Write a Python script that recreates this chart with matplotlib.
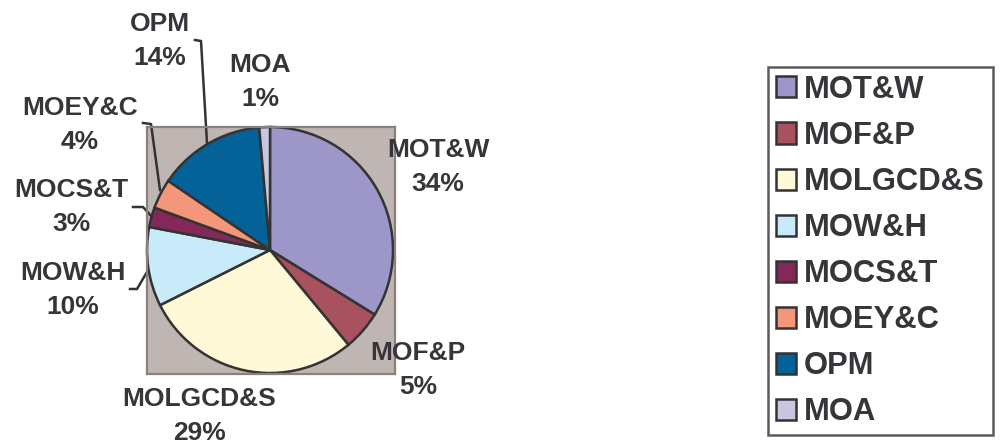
import matplotlib.pyplot as plt

# Ministry shares of the total (percent)
ministries = ['MOT&W', 'MOF&P', 'MOLGCD&S', 'MOW&H', 'MOCS&T', 'MOEY&C', 'OPM', 'MOA']
shares = [33.8, 5.2, 28.6, 10.4, 2.6, 3.9, 14.1, 1.4]
colors = ['#9D96C8', '#A8525F', '#FFF9D8', '#C9EAF8', '#84285A', '#F4967A', '#046299', '#C9C6E2']

# label centres in pixels of the 1003x444 image (layout only)
label_px = [(438, 167), (418, 370), (199, 416), (73, 290), (71, 207), (80, 125), (160, 41), (260, 82)]

W, H = 1003, 444
text_col = '#37353A'
plt.rcParams['font.family'] = ['Liberation Sans', 'DejaVu Sans']

fig = plt.figure(figsize=(W / 100, H / 100), dpi=100)
cx, cy, r = 270, 250, 123
# plot area = gray square around the pie
x0, x1, y0, y1 = 147, 395, 127, 374
ax = fig.add_axes([x0 / W, 1 - y1 / H, (x1 - x0) / W, (y1 - y0) / H])

def to_data(px, py):
    return (px - cx) / r, (cy - py) / r

ax.pie(shares, colors=colors, startangle=90, counterclock=False, radius=1,
       center=(0, 0), frame=True,
       wedgeprops=dict(edgecolor='#333333', linewidth=1.8))
xa, ya = to_data(x0, y1)
xb, yb = to_data(x1, y0)
ax.set_xlim(xa, xb)
ax.set_ylim(ya, yb)
ax.set_aspect('auto')
ax.set_xticks([])
ax.set_yticks([])
ax.set_facecolor('#BFB5B3')
for s in ax.spines.values():
    s.set_color('#8C807D')
    s.set_linewidth(1.6)

for name, v, (px, py) in zip(ministries, shares, label_px):
    tx, ty = to_data(px, py)
    ax.text(tx, ty, f'{name}\n{round(v)}%', ha='center', va='center', fontsize=19,
            fontweight='bold', color=text_col, linespacing=1.5, clip_on=False)

# leader lines (pixel paths)
leaders = [
    [(195, 40), (201, 41), (207, 143)],
    [(143, 123), (151, 124), (160, 190)],
    [(133, 207), (143, 207), (152, 217)],
    [(130, 289), (137, 289), (147, 272)],
]
for path in leaders:
    xs, ys = zip(*[to_data(*p) for p in path])
    ax.plot(xs, ys, color='#333333', lw=1.8, clip_on=False)

# legend
handles = [plt.Rectangle((0, 0), 1, 1, facecolor=c, edgecolor='#333333', lw=1.8) for c in colors]
leg = fig.legend(handles, ministries, loc='upper left',
                 bbox_to_anchor=(768 / W, 1 - 67 / H), bbox_transform=fig.transFigure,
                 frameon=True, fancybox=False, handlelength=0.67, handleheight=0.67,
                 handletextpad=0.25, labelspacing=0.52, borderpad=0.25, borderaxespad=0,
                 prop=dict(size=22.3, weight='bold'))
leg.get_frame().set_edgecolor('#333333')
leg.get_frame().set_linewidth(1.8)
for t in leg.get_texts():
    t.set_color(text_col)

fig.savefig('out.png', dpi=100)
